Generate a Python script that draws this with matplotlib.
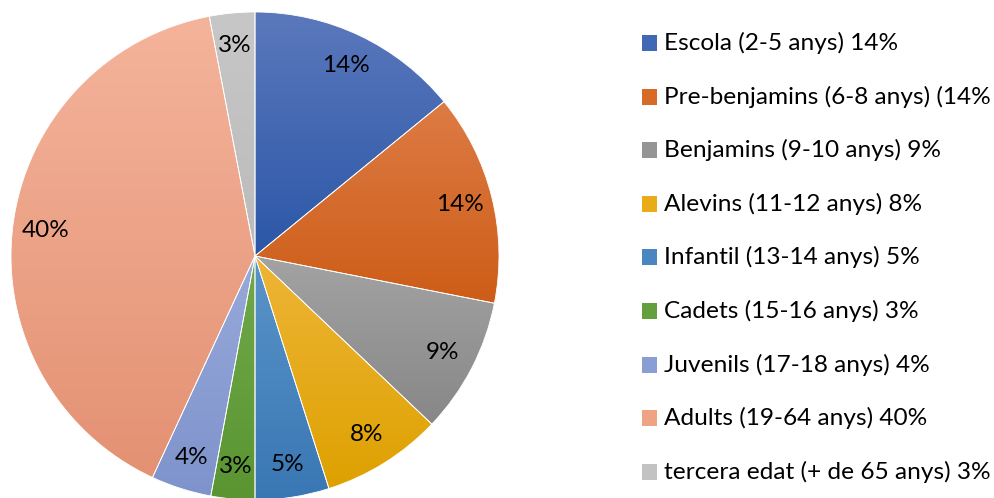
import matplotlib
matplotlib.use("Agg")
import matplotlib.pyplot as plt
import numpy as np
from matplotlib.colors import LinearSegmentedColormap
from matplotlib.patches import Rectangle

categories = ["Escola (2-5 anys) 14%", "Pre-benjamins (6-8 anys) (14%",
              "Benjamins (9-10 anys) 9%", "Alevins (11-12 anys) 8%",
              "Infantil (13-14 anys) 5%", "Cadets (15-16 anys) 3%",
              "Juvenils (17-18 anys) 4%", "Adults (19-64 anys) 40%",
              "tercera edat (+ de 65 anys) 3%"]
values = [14.1, 14.0, 9.0, 8.0, 4.9, 2.9, 4.0, 40.1, 3.0]

top_colors = ["#5B78BC", "#DD7B45", "#A3A3A3", "#EEB537", "#5A94C9",
              "#70A94A", "#98A9DA", "#F4B49B", "#C7C7C7"]
bot_colors = ["#2B57A7", "#CD5D17", "#878787", "#DEA100", "#3977B4",
              "#5A9532", "#7E93CC", "#E49173", "#BBBBBB"]
mid_colors = ["#4068B5", "#D86A28", "#959595", "#E8AC18", "#4A86C0",
              "#649F3E", "#8B9ED3", "#EFA385", "#C2C2C2"]

plt.rcParams['font.family'] = ['Lato', 'DejaVu Sans']

W, H = 995, 498
fig = plt.figure(figsize=(W / 100, H / 100), dpi=100)
ax = fig.add_axes([0, 0, 1, 1])

cx, cy, R = 255, H - 256, 244
wedges, texts, autotexts = ax.pie(
    values, colors=mid_colors, startangle=90, counterclock=False,
    center=(cx, cy), radius=R, autopct=lambda p: f"{p:.0f}%",
    pctdistance=0.865, textprops=dict(fontsize=17.5, color="#000000"),
    wedgeprops=dict(edgecolor="white", linewidth=0.6))

grad = np.linspace(0, 1, 256).reshape(-1, 1)
for w, tc, bc in zip(wedges, top_colors, bot_colors):
    ext = w.get_path().get_extents()
    cmap = LinearSegmentedColormap.from_list("g", [bc, tc])
    im = ax.imshow(grad, extent=[ext.x0, ext.x1, ext.y0, ext.y1], origin="lower",
                   cmap=cmap, aspect="auto", zorder=1, interpolation="bilinear")
    im.set_clip_path(w)
    w.set_facecolor("none")
    w.set_zorder(2)
for t in autotexts:
    t.set_zorder(3)

# legend
lx, ly0, dy, s = 641.5, 43, 53.6, 15.8
for i, (lab, col) in enumerate(zip(categories, mid_colors)):
    y = H - (ly0 + i * dy)
    ax.add_patch(Rectangle((lx, y - s / 2), s, s, facecolor=col, edgecolor="none"))
    ax.text(lx + s + 7, y, lab, fontsize=17.6, va="center", ha="left", color="#000000")

ax.set_xlim(0, W)
ax.set_ylim(0, H)
ax.set_aspect("equal")
ax.axis("off")
fig.savefig("out.png", dpi=100)
